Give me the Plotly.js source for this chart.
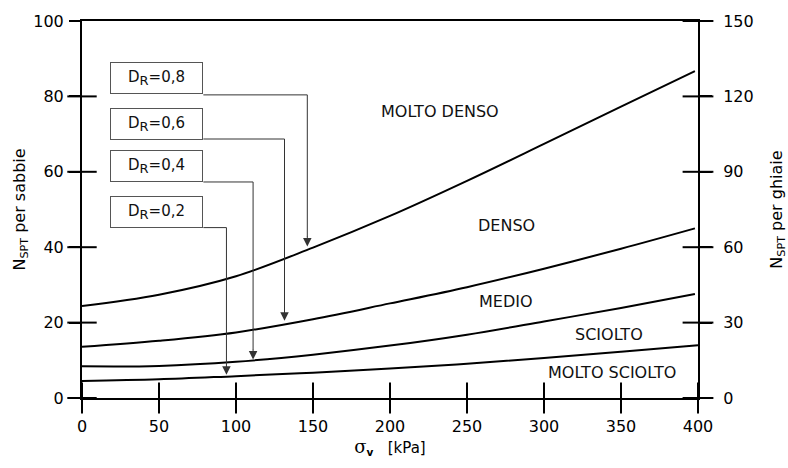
<!DOCTYPE html>
<html>
<head>
<meta charset="utf-8">
<script src="https://cdn.plot.ly/plotly-3.0.1.min.js"></script>
<style>html,body{margin:0;padding:0;background:#fff;}#chart{width:788px;height:468px;}</style>
</head>
<body>
<div id="chart"></div>
<script>
// --- data ---
const sigmaV = [0, 50, 100, 150, 200, 250, 300, 350, 398];
const sigmaVLast = [0, 50, 100, 150, 200, 250, 300, 350, 400];
const nDR08 = [24.4, 27.4, 32.3, 39.9, 48.3, 57.6, 67.4, 77.3, 86.7];
const nDR06 = [13.6, 15.2, 17.4, 20.9, 25.1, 29.4, 34.3, 39.6, 45.0];
const nDR04 = [8.4, 8.5, 9.6, 11.5, 13.9, 16.8, 20.3, 23.9, 27.6];
const nDR02 = [4.5, 4.95, 5.8, 6.7, 7.8, 9.1, 10.6, 12.3, 14.0];

const xTicks = [0, 50, 100, 150, 200, 250, 300, 350, 400];
const ySandTicks = [0, 20, 40, 60, 80, 100];
const yGravelTicks = [0, 30, 60, 90, 120, 150];

const boxLabels = ['0,8', '0,6', '0,4', '0,2'];
const boxX = [48.5, 48.5, 48.5, 48.5];
const boxY = [84.9, 72.8, 61.6, 49.4];
const boxRight = [78.8, 78.8, 78.8, 78.8];
const leaderTop = [80.4, 68.7, 57.3, 45.2];
const leaderX = [146.3, 131.5, 111.1, 93.8];
const leaderTip = [40.2, 20.5, 10.2, 6.2];

const zoneLabels = ['MOLTO DENSO', 'DENSO', 'MEDIO', 'SCIOLTO', 'MOLTO SCIOLTO'];
const zoneX = [232.4, 275.4, 275.0, 342.3, 344.3];
const zoneY = [75.9, 45.7, 25.6, 16.8, 6.7];

// --- traces ---
const FONT = 'DejaVu Sans, Arial, sans-serif';
const traces = [];
[[sigmaV, nDR08], [sigmaV, nDR06], [sigmaV, nDR04], [sigmaVLast, nDR02]].forEach(([xs, ys]) => {
  traces.push({x: xs, y: ys, mode: 'lines',
    line: {color: '#000', width: 2, shape: 'spline', smoothing: 1},
    hoverinfo: 'skip', showlegend: false});
});
for (let i = 0; i < leaderX.length; i++) {
  traces.push({
    x: [boxRight[i], leaderX[i], leaderX[i]],
    y: [leaderTop[i], leaderTop[i], leaderTip[i] + 2.5],
    mode: 'lines', line: {color: '#333', width: 1}, hoverinfo: 'skip', showlegend: false
  });
}
// crossing tick marks drawn as line markers at the tick values
const tickMark = (sym, size) => ({symbol: sym, size: size, color: '#000', line: {color: '#000', width: 2}});
traces.push({x: xTicks, y: xTicks.map(() => 0), mode: 'markers', marker: tickMark('line-ns-open', 22),
  cliponaxis: false, hoverinfo: 'skip', showlegend: false});
traces.push({x: ySandTicks.slice(0, -1).map(() => 0), y: ySandTicks.slice(0, -1), mode: 'markers',
  marker: tickMark('line-ew-open', 21), cliponaxis: false, hoverinfo: 'skip', showlegend: false});
traces.push({x: yGravelTicks.map(() => 400), y: yGravelTicks, yaxis: 'y2', mode: 'markers',
  marker: tickMark('line-ew-open', 22), cliponaxis: false, hoverinfo: 'skip', showlegend: false});

const annotations = [];
for (let i = 0; i < boxLabels.length; i++) {
  annotations.push({
    x: boxX[i], y: boxY[i], xref: 'x', yref: 'y',
    text: 'D<sub><span style="font-size:13px">R</span></sub>=' + boxLabels[i], showarrow: false,
    font: {family: FONT, size: 15, color: '#111'},
    bordercolor: '#555', borderwidth: 1, borderpad: 1, bgcolor: '#fff',
    width: 89, height: 28, align: 'center'
  });
  annotations.push({
    x: leaderX[i], y: leaderTip[i], xref: 'x', yref: 'y',
    ax: leaderX[i], ay: leaderTip[i] + 3, axref: 'x', ayref: 'y',
    text: '', showarrow: true, arrowhead: 2, arrowsize: 1.7, arrowwidth: 1, arrowcolor: '#333'
  });
}
for (let i = 0; i < zoneLabels.length; i++) {
  annotations.push({
    x: zoneX[i], y: zoneY[i], xref: 'x', yref: 'y', text: zoneLabels[i], showarrow: false,
    font: {family: FONT, size: 16, color: '#111'}
  });
}

const tickFont = {family: FONT, size: 16, color: '#000'};
const layout = {
  width: 788, height: 468,
  margin: {l: 82, r: 90, t: 21, b: 70, pad: 0},
  paper_bgcolor: '#fff', plot_bgcolor: '#fff',
  font: {family: FONT, color: '#000'},
  showlegend: false,
  xaxis: {
    range: [0, 400], tickvals: xTicks, ticktext: xTicks.map(String),
    ticks: 'outside', ticklen: 11, tickwidth: 2, tickcolor: '#000',
    showline: true, linewidth: 2, linecolor: '#000', mirror: true,
    showgrid: false, zeroline: false, tickfont: tickFont, ticklabelstandoff: 2,
    title: {text: '<span style="font-family:DejaVu Serif;font-size:18px">σ</span><sub><b>v</b></sub>   [kPa]', font: {family: FONT, size: 15, color: '#000'}, standoff: 6}
  },
  yaxis: {
    range: [0, 100], tickvals: ySandTicks, ticktext: ySandTicks.map(String),
    ticks: 'outside', ticklen: 11, tickwidth: 2, tickcolor: '#000',
    showline: true, linewidth: 2, linecolor: '#000',
    showgrid: false, zeroline: false, tickfont: tickFont, ticklabelstandoff: 2,
    title: {text: 'N<sub>SPT</sub> per sabbie', font: {family: FONT, size: 16, color: '#000'}, standoff: 4}
  },
  yaxis2: {
    overlaying: 'y', side: 'right', anchor: 'x', range: [0, 150],
    tickvals: yGravelTicks, ticktext: yGravelTicks.map(String),
    ticks: 'outside', ticklen: 12, tickwidth: 2, tickcolor: '#000',
    showline: true, linewidth: 2, linecolor: '#000',
    showgrid: false, zeroline: false, tickfont: tickFont, ticklabelstandoff: 8,
    title: {text: 'N<sub>SPT</sub> per ghiaie', font: {family: FONT, size: 16, color: '#000'}, standoff: 18}
  },
  annotations: annotations
};

Plotly.newPlot('chart', traces, layout, {displayModeBar: false, responsive: false});
</script>
</body>
</html>
